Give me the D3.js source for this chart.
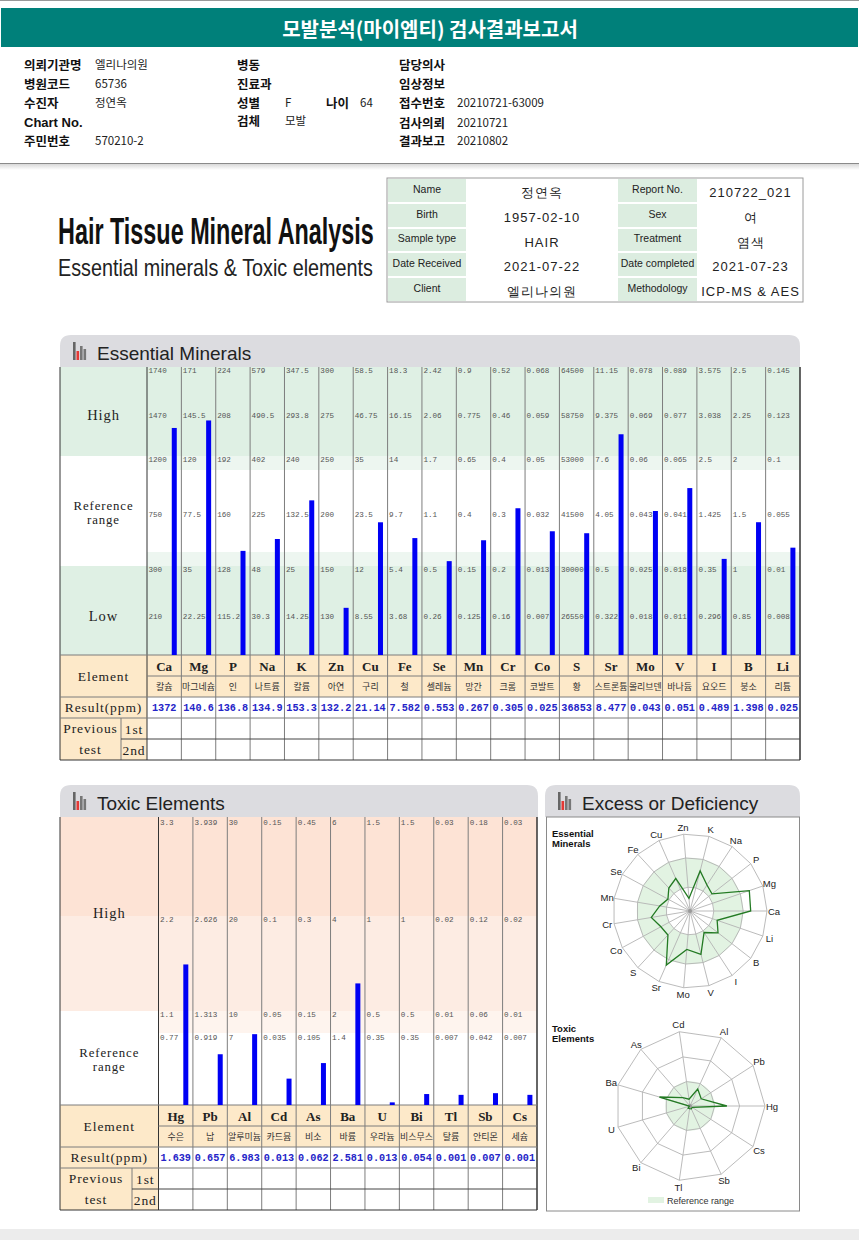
<!DOCTYPE html>
<html><head><meta charset="utf-8">
<script src="https://cdn.jsdelivr.net/npm/d3@7"></script>
<style>body{margin:0;background:#fff;} svg{display:block;}</style>
</head><body><svg id="c" width="859" height="1240"></svg>
<script>
// ---------------- DATA ----------------
const reportTitle = "모발분석(마이엠티) 검사결과보고서";
const infoCol1 = [["의뢰기관명","엘리나의원"],["병원코드","65736"],["수진자","정연옥"],["Chart No.",""],["주민번호","570210-2"]];
const infoCol2 = [["병동",""],["진료과",""],["성별","F"],["검체","모발"]];
const ageLabel = ["나이","64"];
const infoCol3 = [["담당의사",""],["임상정보",""],["접수번호","20210721-63009"],["검사의뢰","20210721"],["결과보고","20210802"]];

const sampleTable = [
  ["Name","정연옥","Report No.","210722_021"],
  ["Birth","1957-02-10","Sex","여"],
  ["Sample type","HAIR","Treatment","염색"],
  ["Date Received","2021-07-22","Date completed","2021-07-23"],
  ["Client","엘리나의원","Methodology","ICP-MS & AES"]
];

const essElements = ["Ca","Mg","P","Na","K","Zn","Cu","Fe","Se","Mn","Cr","Co","S","Sr","Mo","V","I","B","Li"];
const essKorean = ["칼슘","마그네슘","인","나트륨","칼륨","아연","구리","철","셀레늄","망간","크롬","코발트","황","스트론튬","몰리브덴","바나듐","요오드","붕소","리튬"];
const essTicks = [
  ["1740","1470","1200","750","300","210"],
  ["171","145.5","120","77.5","35","22.25"],
  ["224","208","192","160","128","115.2"],
  ["579","490.5","402","225","48","30.3"],
  ["347.5","293.8","240","132.5","25","14.25"],
  ["300","275","250","200","150","130"],
  ["58.5","46.75","35","23.5","12","8.55"],
  ["18.3","16.15","14","9.7","5.4","3.68"],
  ["2.42","2.06","1.7","1.1","0.5","0.26"],
  ["0.9","0.775","0.65","0.4","0.15","0.125"],
  ["0.52","0.46","0.4","0.3","0.2","0.16"],
  ["0.068","0.059","0.05","0.032","0.013","0.007"],
  ["64500","58750","53000","41500","30000","26550"],
  ["11.15","9.375","7.6","4.05","0.5","0.322"],
  ["0.078","0.069","0.06","0.043","0.025","0.018"],
  ["0.089","0.077","0.065","0.041","0.018","0.011"],
  ["3.575","3.038","2.5","1.425","0.35","0.296"],
  ["2.5","2.25","2","1.5","1","0.85"],
  ["0.145","0.123","0.1","0.055","0.01","0.008"]
];
const essResults = ["1372","140.6","136.8","134.9","153.3","132.2","21.14","7.582","0.553","0.267","0.305","0.025","36853","8.477","0.043","0.051","0.489","1.398","0.025"];

const toxElements = ["Hg","Pb","Al","Cd","As","Ba","U","Bi","Tl","Sb","Cs"];
const toxKorean = ["수은","납","알루미늄","카드뮴","비소","바륨","우라늄","비스무스","탈륨","안티몬","세슘"];
const toxTicks = [
  ["3.3","2.2","1.1","0.77"],
  ["3.939","2.626","1.313","0.919"],
  ["30","20","10","7"],
  ["0.15","0.1","0.05","0.035"],
  ["0.45","0.3","0.15","0.105"],
  ["6","4","2","1.4"],
  ["1.5","1","0.5","0.35"],
  ["1.5","1","0.5","0.35"],
  ["0.03","0.02","0.01","0.007"],
  ["0.18","0.12","0.06","0.042"],
  ["0.03","0.02","0.01","0.007"]
];
const toxResults = ["1.639","0.657","6.983","0.013","0.062","2.581","0.013","0.054","0.001","0.007","0.001"];

// ---------------- DRAW ----------------
const svg = d3.select("#c");
const SANS = "'Liberation Sans', Arial, sans-serif";
const SERIF = "'Liberation Serif', 'DejaVu Serif', serif";
const MONO = "'Liberation Mono', 'DejaVu Sans Mono', monospace";
const KR = "'Noto Sans CJK KR', 'Noto Sans', sans-serif";
const GREEN = "#dff0e4", GREEN2 = "#edf6f0", PEACH = "#fde9c9";

svg.append("rect").attr("width",859).attr("height",1240).attr("fill","#fff");
svg.append("line").attr("x1",0).attr("x2",859).attr("y1",0.5).attr("y2",0.5).attr("stroke","#999");
svg.append("rect").attr("x",1).attr("y",8).attr("width",857).attr("height",39).attr("fill","#00807a");
svg.append("text").attr("x",430).attr("y",28).attr("text-anchor","middle").attr("dominant-baseline","central")
  .attr("font-family",KR).attr("font-weight","bold").attr("font-size",20).attr("fill","#fff").text(reportTitle);

// info block
const rowY = [64, 83, 102, 122, 140];
function infoLabel(x, y, t) {
  const latin = /[A-Za-z]/.test(t);
  return svg.append("text").attr("x",x).attr("y",y).attr("dominant-baseline","central")
    .attr("font-family", latin ? SANS : KR).attr("font-weight","bold")
    .attr("font-size", latin ? 13 : 12.5).attr("fill","#111").text(t);
}
function infoValue(x, y, t) {
  svg.append("text").attr("x",x).attr("y",y).attr("dominant-baseline","central")
    .attr("font-family",KR).attr("font-size",11.5).attr("fill","#222").text(t);
}
infoCol1.forEach((d,i) => {
  const lab = infoLabel(24, rowY[i], d[0]);
  const w = lab.node().getComputedTextLength();
  infoValue(Math.max(95, 24 + w + 6), rowY[i], d[1]);
});
infoCol2.forEach((d,i) => {
  const y = i === 3 ? 120 : rowY[i];
  infoLabel(237, y, d[0]);
  infoValue(285, y, d[1]);
});
infoLabel(326, rowY[2], ageLabel[0]);
infoValue(360, rowY[2], ageLabel[1]);
infoCol3.forEach((d,i) => {
  infoLabel(399, rowY[i], d[0]);
  infoValue(457, rowY[i], d[1]);
});
svg.append("line").attr("x1",0).attr("x2",859).attr("y1",163.5).attr("y2",163.5).attr("stroke","#8a8a8a");
const grad = svg.append("defs").append("linearGradient").attr("id","sh").attr("x1",0).attr("x2",0).attr("y1",0).attr("y2",1);
grad.append("stop").attr("offset",0).attr("stop-color","#d8d8d8");
grad.append("stop").attr("offset",1).attr("stop-color","#fff");
svg.append("rect").attr("x",0).attr("y",164).attr("width",859).attr("height",6).attr("fill","url(#sh)");

// main title (condensed by horizontal scaling to a fixed width)
function condensed(x, y, w, size, weight, fill, t) {
  const g = svg.append("g");
  const tx = g.append("text").attr("x",0).attr("y",0).attr("font-family","'Liberation Sans Narrow', " + SANS)
    .attr("font-weight",weight).attr("font-size",size).attr("fill",fill).text(t);
  const nat = tx.node().getComputedTextLength();
  g.attr("transform",`translate(${x},${y}) scale(${w/nat},1)`);
}
condensed(58, 244, 316, 37, "bold", "#111", "Hair Tissue Mineral Analysis");
condensed(58, 276, 315, 23, "normal", "#222", "Essential minerals & Toxic elements");

// sample table
const stCols = [387, 467, 617, 698, 803];
const stRows = [178, 203, 228, 252, 277, 302];
sampleTable.forEach((row, r) => {
  row.forEach((t, c) => {
    const x0 = stCols[c], x1 = stCols[c+1], y0 = stRows[r], y1 = stRows[r+1];
    const isLab = c % 2 === 0;
    if (isLab) svg.append("rect").attr("x",x0+1).attr("y",y0+1).attr("width",x1-x0-2).attr("height",y1-y0-2).attr("fill","#dcede0");
    svg.append("text").attr("x",(x0+x1)/2).attr("y", isLab ? (y0+y1)/2 - 2 : (y0+y1)/2 + 2)
      .attr("text-anchor","middle").attr("dominant-baseline","central")
      .attr("font-family", SANS).attr("font-size", isLab ? 10.5 : 13)
      .attr("letter-spacing", isLab ? 0 : 1).attr("fill","#222").text(t);
  });
});
svg.append("rect").attr("x",387).attr("y",178).attr("width",416).attr("height",124).attr("fill","none").attr("stroke","#9a9a9a");

// section header
function sectionHeader(x0, x1, y0, y1, title) {
  const r = 11;
  svg.append("path").attr("d",`M${x0},${y1} L${x0},${y0+r} Q${x0},${y0} ${x0+r},${y0} L${x1-r},${y0} Q${x1},${y0} ${x1},${y0+r} L${x1},${y1} Z`)
    .attr("fill","#dcdce0");
  const ix = x0 + 13, by = y0 + 25;
  [[0,18,"#666"],[3.5,9,"#e53935"],[7,14,"#777"],[10.5,11,"#777"]].forEach(b =>
    svg.append("rect").attr("x",ix+b[0]).attr("y",by-b[1]).attr("width",2.6).attr("height",b[1]).attr("fill",b[2]));
  svg.append("text").attr("x",x0+37).attr("y",y0+18).attr("dominant-baseline","central")
    .attr("font-family",SANS).attr("font-size",19).attr("fill","#222").text(title);
}

function drawPanel(p) {
  const g = svg.append("g");
  const x = d3.scaleBand().domain(p.elements).range([p.xLab, p.x1]);
  const bw = x.bandwidth();
  const tb = p.bottom;
  const rowH = 21;
  const tEnd = tb + rowH*5;
  p.bandsLeft.forEach(b => g.append("rect").attr("x",p.x0).attr("y",b[0]).attr("width",p.xLab-p.x0).attr("height",b[1]-b[0]).attr("fill",b[2]));
  p.bandsCols.forEach(b => g.append("rect").attr("x",p.xLab).attr("y",b[0]).attr("width",p.x1-p.xLab).attr("height",b[1]-b[0]).attr("fill",b[2]));
  g.append("rect").attr("x",p.x0).attr("y",tb).attr("width",p.x1-p.x0).attr("height",rowH*2).attr("fill",PEACH);
  g.append("rect").attr("x",p.x0).attr("y",tb).attr("width",p.xLab-p.x0).attr("height",rowH*5).attr("fill",PEACH);

  const vx = p.elements.map(e => x(e)).concat([p.x1]);
  vx.forEach((vxx,i) => g.append("line").attr("x1",vxx).attr("x2",vxx).attr("y1",p.top).attr("y2",tEnd)
      .attr("stroke", i === 0 || i === vx.length-1 ? "#333" : "#7d7d7d").attr("stroke-width", i === vx.length-1 ? 1.5 : 1));
  g.append("line").attr("x1",p.x0).attr("x2",p.x0).attr("y1",p.top).attr("y2",tEnd).attr("stroke","#333");
  g.append("line").attr("x1",p.xPrev).attr("x2",p.xPrev).attr("y1",tb+rowH*3).attr("y2",tEnd).attr("stroke","#7d7d7d");
  const hl = (y, xa, col) => g.append("line").attr("x1",xa).attr("x2",p.x1).attr("y1",y).attr("y2",y).attr("stroke",col || "#7d7d7d");
  hl(tb, p.x0); hl(tb+rowH, p.xLab); hl(tb+rowH*2, p.x0); hl(tb+rowH*3, p.x0); hl(tb+rowH*4, p.xPrev, "#444"); hl(tEnd, p.x0, "#333");

  p.elements.forEach((e, i) => {
    const ticks = p.ticks[i];
    const dom = [0].concat(ticks.slice().reverse().map(Number));
    const y = d3.scaleLinear().domain(dom).range(p.levelY).clamp(true);
    ticks.forEach(t => g.append("text").attr("x",x(e)+1.5).attr("y",y(+t)+1.5).attr("dominant-baseline","hanging")
      .attr("font-family",MONO).attr("font-size",7.6).attr("fill","#555").text(t));
    const v = +p.results[i];
    g.append("rect").attr("x",x(e)+bw-9.6).attr("y",y(v)).attr("width",5).attr("height",p.bottom-y(v)).attr("fill","#0000f4");
    g.append("text").attr("x",x(e)+bw/2).attr("y",tb+rowH/2+1).attr("text-anchor","middle").attr("dominant-baseline","central")
      .attr("font-family",SERIF).attr("font-weight","bold").attr("font-size",13).attr("fill","#222").text(e);
    const kt = g.append("text").attr("x",x(e)+bw/2).attr("y",tb+rowH*1.5).attr("text-anchor","middle").attr("dominant-baseline","central")
      .attr("font-family",KR).attr("font-size",9).attr("fill","#333").text(p.korean[i]);
    if (p.korean[i].length >= 4) kt.attr("textLength",bw-1.5).attr("lengthAdjust","spacingAndGlyphs");
    g.append("text").attr("x",x(e)+bw/2).attr("y",tb+rowH*2.5+1).attr("text-anchor","middle").attr("dominant-baseline","central")
      .attr("font-family",MONO).attr("font-weight","bold").attr("font-size",10.2).attr("fill","#2424c8").text(p.results[i]);
  });

  const lab = (xx, yy, t, fs) => g.append("text").attr("x",xx).attr("y",yy).attr("text-anchor","middle").attr("dominant-baseline","central")
      .attr("font-family",SERIF).attr("font-size",fs||13.5).attr("letter-spacing",0.9).attr("fill","#222").text(t);
  const xc = (p.x0+p.xLab)/2;
  p.leftLabels.forEach(l => {
    if (l[1].length > 1) { lab(xc, l[0] - 7, l[1][0], 12.8); lab(xc, l[0] + 7, l[1][1], 12.8); }
    else lab(xc, l[0], l[1][0], 14.5);
  });
  lab(xc, tb+rowH, "Element");
  lab(xc, tb+rowH*2.5, "Result(ppm)");
  lab((p.x0+p.xPrev)/2, tb+rowH*3+10, "Previous");
  lab((p.x0+p.xPrev)/2, tb+rowH*4+10, "test");
  lab((p.xPrev+p.xLab)/2, tb+rowH*3.5+1, "1st");
  lab((p.xPrev+p.xLab)/2, tb+rowH*4.5+1, "2nd");
}

sectionHeader(60, 800, 335, 367, "Essential Minerals");
drawPanel({
  elements: essElements, korean: essKorean, ticks: essTicks, results: essResults,
  x0: 60, xLab: 147, x1: 800, xPrev: 121, top: 367, bottom: 655,
  levelY: [655, 613, 566, 511, 456, 412, 367],
  bandsLeft: [[367,456,GREEN],[456,566,"#fff"],[566,655,GREEN]],
  bandsCols: [[367,456,GREEN],[456,470,GREEN2],[470,552,"#fff"],[552,566,GREEN2],[566,655,GREEN]],
  leftLabels: [[415,["High"]],[513,["Reference","range"]],[616,["Low"]]]
});

sectionHeader(60, 538, 785, 817, "Toxic Elements");
drawPanel({
  elements: toxElements, korean: toxKorean, ticks: toxTicks, results: toxResults,
  x0: 60, xLab: 158.5, x1: 537, xPrev: 132, top: 817, bottom: 1105,
  levelY: [1105, 1034, 1011, 916, 819],
  bandsLeft: [[817,916,"#fde3d5"],[916,1011,"#fdece3"],[1011,1105,"#fff"]],
  bandsCols: [[817,916,"#fde3d5"],[916,1011,"#fdece3"],[1011,1033,"#fef4ee"],[1033,1105,"#fff"]],
  leftLabels: [[913,["High"]],[1060,["Reference","range"]]]
});

sectionHeader(545, 800, 785, 817, "Excess or Deficiency");
svg.append("rect").attr("x",546.5).attr("y",817).attr("width",253).attr("height",394).attr("fill","#fff").attr("stroke","#8a8a8a");

function radar(p) {
  const n = p.elements.length, R = p.R, cx = p.cx, cy = p.cy;
  const g = svg.append("g").attr("transform",`translate(${cx},${cy})`);
  const ang = i => Math.PI/2 - i*2*Math.PI/n;
  const fr = p.elements.map((e,i) => {
    const dom = [0].concat(p.ticks[i].slice().reverse().map(Number));
    const y = d3.scaleLinear().domain(dom).range(p.levelY).clamp(true);
    return (p.levelY[0] - y(+p.results[i])) / (p.levelY[0] - p.levelY[p.levelY.length-1]);
  });
  g.append("path").attr("d", d3.arc()({innerRadius:p.refIn*R, outerRadius:p.refOut*R, startAngle:0, endAngle:2*Math.PI}))
    .attr("fill","#e2f3e2");
  const ring = d3.lineRadial().angle((d,i)=>ang(i)).radius(d=>d).curve(d3.curveLinearClosed);
  p.rings.forEach(f => g.append("path").attr("d", ring(d3.range(n).map(()=>f*R))).attr("fill","none").attr("stroke","#b3b3b3").attr("stroke-width",0.9));
  p.elements.forEach((e,i) => {
    const a = i*2*Math.PI/n;
    g.append("line").attr("x1",0).attr("y1",0).attr("x2",R*Math.cos(a)).attr("y2",-R*Math.sin(a)).attr("stroke","#b3b3b3").attr("stroke-width",0.9);
    g.append("text").attr("x",(R+p.lab)*Math.cos(a)).attr("y",-(R+p.lab)*Math.sin(a)).attr("text-anchor","middle").attr("dominant-baseline","central")
      .attr("font-family",SANS).attr("font-size",9.5).attr("fill","#222").text(e);
  });
  g.append("circle").attr("r",2).attr("fill","#999");
  g.append("path").attr("d", d3.lineRadial().angle((d,i)=>ang(i)).radius(d=>d*R).curve(d3.curveLinearClosed)(fr))
    .attr("fill","none").attr("stroke","#237a23").attr("stroke-width",1.3);
  p.title.forEach((t,k) => svg.append("text").attr("x",552).attr("y",p.titleY + k*10.5).attr("dominant-baseline","central")
    .attr("font-family",SANS).attr("font-weight","bold").attr("font-size",9.5).attr("fill","#111").text(t));
}
radar({elements: essElements, ticks: essTicks, results: essResults, cx: 690, cy: 911, R: 77, lab: 7,
  levelY: [655, 613, 566, 511, 456, 412, 367], refIn: 0.309, refOut: 0.691, rings: [0.309, 0.691, 1],
  title: ["Essential","Minerals"], titleY: 833});
radar({elements: toxElements, ticks: toxTicks, results: toxResults, cx: 690, cy: 1106, R: 75, lab: 7,
  levelY: [1105, 1034, 1011, 916, 819], refIn: 0, refOut: 0.329, rings: [0.329, 0.661, 1],
  title: ["Toxic","Elements"], titleY: 1028});
svg.append("rect").attr("x",648).attr("y",1197).attr("width",16).attr("height",6).attr("fill","#e2f3e2");
svg.append("text").attr("x",667).attr("y",1200.5).attr("dominant-baseline","central").attr("font-family",SANS)
  .attr("font-size",9).attr("fill","#333").text("Reference range");

svg.append("rect").attr("x",0).attr("y",1229).attr("width",859).attr("height",11).attr("fill","#ececec");
</script></body></html>
